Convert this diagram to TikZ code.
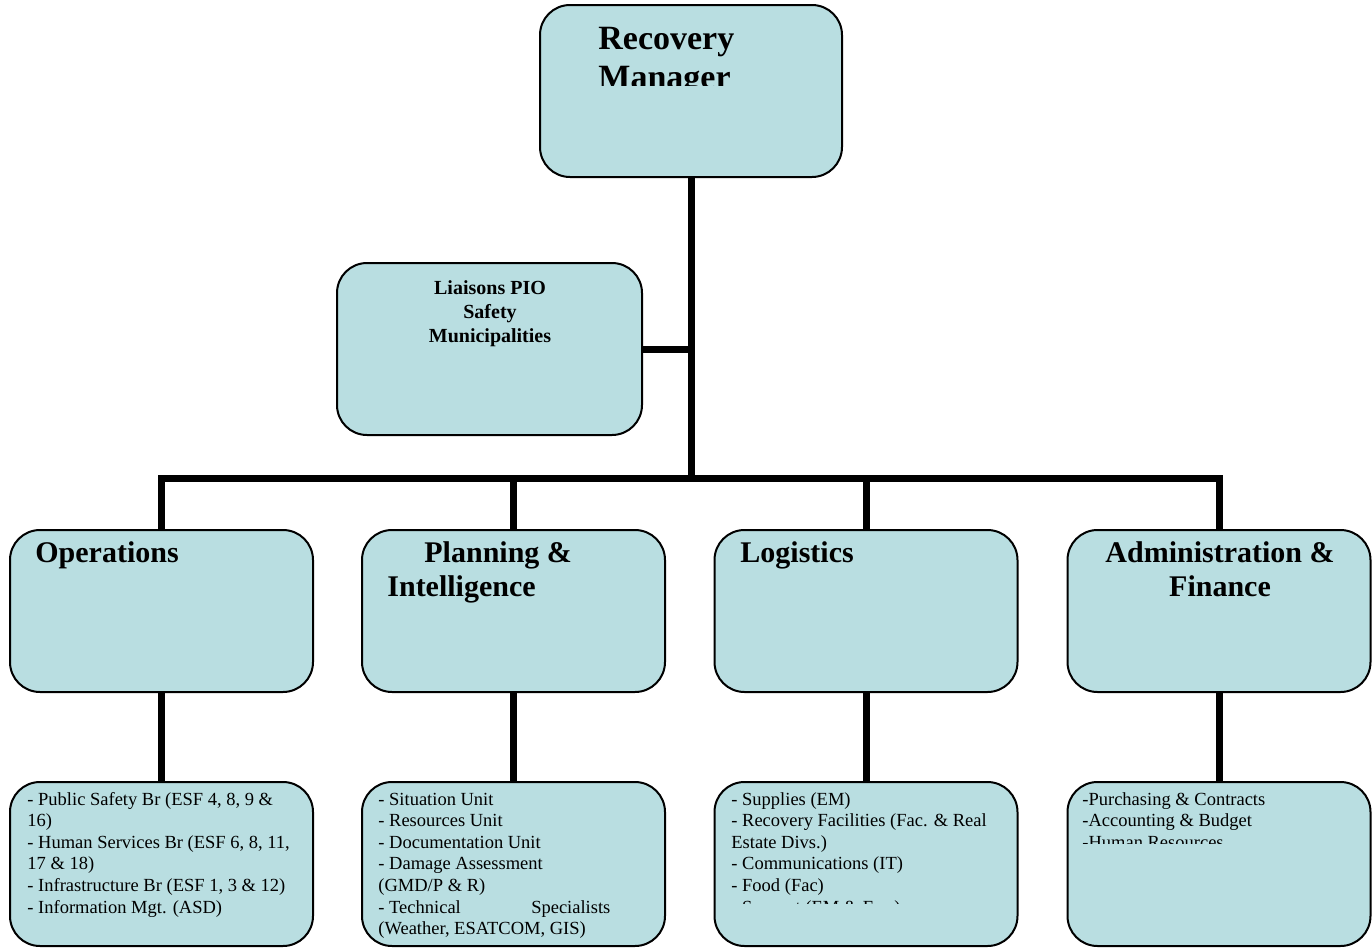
\documentclass[tikz,border=0pt]{standalone}
\usepackage{fontspec}
\setmainfont{Liberation Serif}
\definecolor{boxfill}{RGB}{185,222,225}
\begin{document}
\begin{tikzpicture}[x=0.5pt,y=-0.5pt,
  box/.style={draw=black,line width=1pt,fill=boxfill,rounded corners=15pt,inner sep=0pt,minimum width=151.5pt,minimum height=81pt},
  conn/.style={line width=3.5pt,line join=miter},
  head/.style={font=\bfseries\fontsize{15}{17}\selectfont,inner sep=0pt},
  big/.style={font=\bfseries\fontsize{17}{19}\selectfont,inner sep=0pt,anchor=base west},
  small/.style={font=\bfseries\fontsize{10}{12}\selectfont,inner sep=0pt,anchor=base},
  body/.style={font=\fontsize{9.25}{10.8}\selectfont,inner sep=0pt,anchor=base west}]
\useasboundingbox (0,0) rectangle (1372,948);
% boxes
\node[box,minimum width=151pt,minimum height=86pt] (rm) at (691,91) {};
\node[box,minimum width=152.5pt,minimum height=86pt] (li) at (489.5,349) {};
\node[box] (ops) at (161.5,611) {};
\node[box] (pln) at (513.5,611) {};
\node[box] (lgs) at (866,611) {};
\node[box] (adm) at (1219,611) {};
\node[box,minimum height=82pt] (opsd) at (161.5,864) {};
\node[box,minimum height=82pt] (plnd) at (513.5,864) {};
\node[box,minimum height=82pt] (lgsd) at (866,864) {};
\node[box,minimum height=82pt] (admd) at (1219,864) {};
% connectors
\coordinate (bar) at (691,478);
\draw[conn] (rm.south) -- (bar);
\draw[conn] (li.east) -- (li.east -| rm.south);
\draw[conn] (ops.north) -- (ops.north |- bar) -- (adm.north |- bar) -- (adm.north);
\draw[conn] (pln.north |- bar) -- (pln.north);
\draw[conn] (lgs.north |- bar) -- (lgs.north);
\draw[conn] (ops.south) -- (opsd.north);
\draw[conn] (pln.south) -- (plnd.north);
\draw[conn] (lgs.south) -- (lgsd.north);
\draw[conn] (adm.south) -- (admd.north);
% recovery manager text (clipped)
\begin{scope}
\clip (540,0) rectangle (842,85);
\node[big] (rmt1) at (598,49) {Recovery};
\node[big] (rmt2) at (598,88) {Manager};
\end{scope}
% liaisons
\node[small] (lit1) at (490,294) {Liaisons PIO};
\node[small] (lit2) at (490,318) {Safety};
\node[small] (lit3) at (490,342) {Municipalities};
% section heads
\node[head,anchor=base west] (opst) at (35,562) {Operations};
\node[head,anchor=base west] (plnt1) at (424,562) {Planning \&};
\node[head,anchor=base west] (plnt2) at (387,596) {Intelligence};
\node[head,anchor=base west] (lgst) at (740,562) {Logistics};
\node[head,anchor=base] (admt1) at (1220,562) {Administration \&};
\node[head,anchor=base] (admt2) at (1220,596) {Finance};
% bottom lists
\foreach \t [count=\i from 0] in {{- Public Safety Br (ESF 4, 8, 9 \&},{16)},{- Human Services Br (ESF 6, 8, 11,},{17 \& 18)},{- Infrastructure Br (ESF 1, 3 \& 12)},{- Information Mgt. (ASD)}}
  \node[body] (opsl\i) at (27,{805+21.6*\i}) {\t};
\foreach \t [count=\i from 0] in {{- Situation Unit},{- Resources Unit},{- Documentation Unit},{- Damage Assessment},{(GMD/P \& R)},{\makebox[116pt][l]{- Technical\hfill Specialists}},{(Weather, ESATCOM, GIS)}}
  \node[body] (plnl\i) at (378,{805+21.6*\i}) {\t};
\begin{scope}
\clip (700,780) rectangle (1030,903);
\foreach \t [count=\i from 0] in {{- Supplies (EM)},{- Recovery Facilities (Fac. \& Real},{Estate Divs.)},{- Communications (IT)},{- Food (Fac)},{- Support (EM \& Fac.)}}
  \node[body] (lgsl\i) at (731,{805+21.6*\i}) {\t};
\end{scope}
\begin{scope}
\clip (1060,780) rectangle (1372,843);
\foreach \t [count=\i from 0] in {{-Purchasing \& Contracts},{-Accounting \& Budget},{-Human Resources}}
  \node[body] (adml\i) at (1082,{805+21.6*\i}) {\t};
\end{scope}
\end{tikzpicture}
\end{document}
